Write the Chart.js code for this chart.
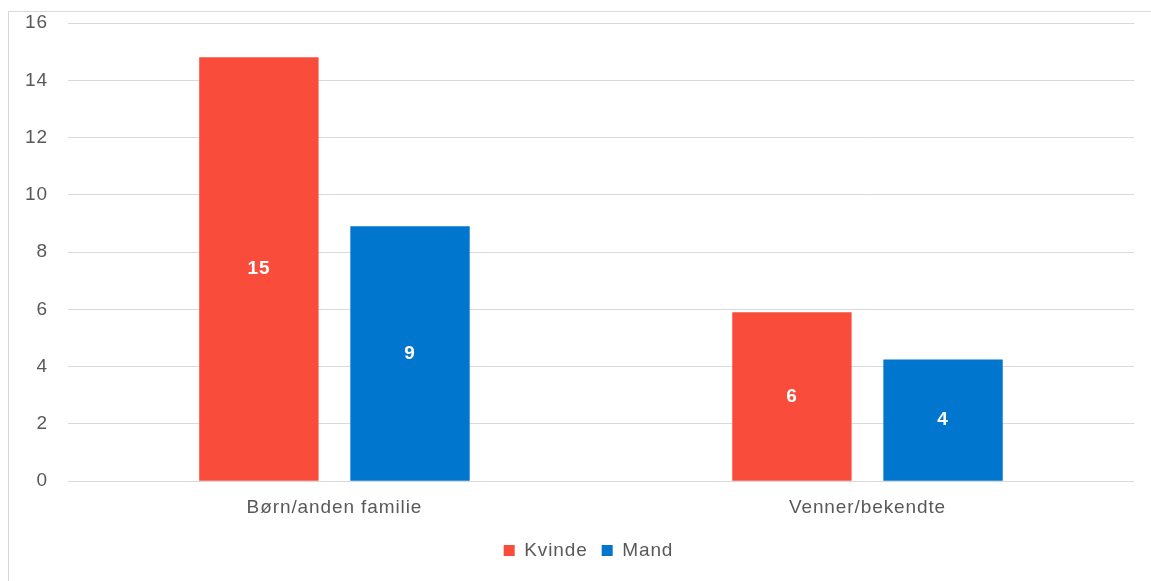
<!DOCTYPE html>
<html>
<head>
<meta charset="utf-8">
<script src="https://cdn.jsdelivr.net/npm/chart.js@4/dist/chart.umd.min.js"></script>
<style>
  html, body { margin: 0; padding: 0; background: #fff; }
  #ramme { position: absolute; left: 8px; top: 11px; width: 1160px; height: 590px; border: 1px solid #d9d9d9; }
  #wrap { position: absolute; left: 0; top: 0; width: 1151px; height: 581px; }
</style>
</head>
<body>
<div id="ramme"></div>
<div id="wrap"><canvas id="ChartKoen"></canvas></div>
<script>
const kategorier = ['Børn/anden familie', 'Venner/bekendte'];
const kvinde = [14.8, 5.9];
const mand = [8.9, 4.25];
const yTicks = [0, 2, 4, 6, 8, 10, 12, 14, 16];

const fontFam = '"Liberation Sans", Arial, sans-serif';

// lidt ekstra bogstavafstand, som i Excel
const spacingPlugin = {
    id: 'spacing',
    beforeUpdate(chart) { chart.ctx.letterSpacing = '0.9px'; },
    beforeDraw(chart) { chart.ctx.letterSpacing = '0.9px'; },
    // forklaringen sidder lidt til hoejre for midten (rammen fortsaetter uden for billedet)
    afterLayout(chart) {
        chart.legend.left += 19;
        chart.legend.right += 19;
    }
};

// tal midt i soejlerne
const labelPlugin = {
    id: 'soejleTal',
    afterDatasetsDraw(chart) {
        const ctx = chart.ctx;
        ctx.save();
        ctx.fillStyle = '#ffffff';
        ctx.font = 'bold 19px ' + fontFam;
        ctx.textAlign = 'center';
        ctx.textBaseline = 'middle';
        chart.data.datasets.forEach((ds, i) => {
            chart.getDatasetMeta(i).data.forEach((bar, j) => {
                const midt = (bar.y + bar.base) / 2;
                ctx.fillText(Math.round(ds.data[j]), bar.x, midt);
            });
        });
        ctx.restore();
    }
};

const ctx = document.getElementById('ChartKoen').getContext('2d');
new Chart(ctx, {
    type: 'bar',
    data: {
        labels: kategorier,
        datasets: [
            { label: 'Kvinde', data: kvinde, backgroundColor: '#f94c3b', barPercentage: 0.79, categoryPercentage: 0.567 },
            { label: 'Mand', data: mand, backgroundColor: '#0076ce', barPercentage: 0.79, categoryPercentage: 0.567 }
        ]
    },
    options: {
        responsive: true,
        maintainAspectRatio: false,
        animation: false,
        layout: { padding: { top: 23, right: 17, left: 5, bottom: 11 } },
        plugins: {
            tooltip: { enabled: false },
            legend: {
                position: 'bottom',
                labels: {
                    boxWidth: 11, boxHeight: 11, padding: 14,
                    color: '#595959',
                    font: { family: fontFam, size: 19 }
                }
            }
        },
        scales: {
            x: {
                grid: { display: false },
                border: { display: false },
                ticks: { color: '#595959', font: { family: fontFam, size: 19 }, padding: 7 },
                afterFit: (axis) => { axis.height += 1; }
            },
            y: {
                min: 0, max: 16,
                afterBuildTicks: (axis) => { axis.ticks = yTicks.map(v => ({ value: v })); },
                afterFit: (axis) => { axis.paddingTop = 0; axis.paddingBottom = 0; },
                grid: { color: '#d9d9d9', drawTicks: false },
                border: { display: false },
                ticks: { color: '#595959', font: { family: fontFam, size: 19 }, padding: 20 }
            }
        }
    },
    plugins: [spacingPlugin, labelPlugin]
});
</script>
</body>
</html>
